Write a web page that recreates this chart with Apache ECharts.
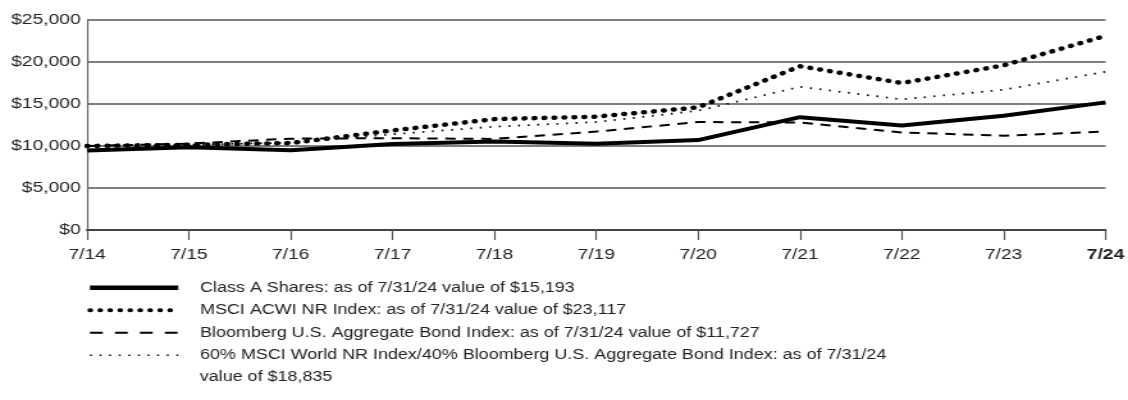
<!DOCTYPE html>
<html><head><meta charset="utf-8">
<script src="https://cdn.jsdelivr.net/npm/echarts@6/dist/echarts.min.js"></script>
<style>html,body{margin:0;padding:0;background:#fff;overflow:hidden}#c{width:881px;height:400px;transform:scaleX(1.2804);transform-origin:0 0}</style>
</head><body><div id="c"></div>
<script>
var categories = ['7/14','7/15','7/16','7/17','7/18','7/19','7/20','7/21','7/22','7/23','7/24'];
var classA = [9450, 9850, 9480, 10250, 10550, 10280, 10700, 13430, 12450, 13600, 15193];
var msciAcwi = [10000, 10150, 10350, 11850, 13200, 13500, 14600, 19500, 17500, 19600, 23117];
var bbgAgg = [10000, 10282, 10873, 10928, 10840, 11719, 12850, 12804, 11617, 11220, 11727];
var blend = [10000, 10150, 10400, 11400, 12300, 12850, 14200, 17050, 15550, 16700, 18835];
var names = [
  'Class A Shares: as of 7/31/24 value of $15,193',
  'MSCI ACWI NR Index: as of 7/31/24 value of $23,117',
  'Bloomberg U.S. Aggregate Bond Index: as of 7/31/24 value of $11,727',
  '60% MSCI World NR Index/40% Bloomberg U.S. Aggregate Bond Index: as of 7/31/24'
];
var nameContinuation = 'value of $18,835';
var styles = [
  {color: '#000', width: 4, type: 'solid'},
  {color: '#000', width: 4.5, type: [0.5, 7.3], cap: 'round'},
  {color: '#000', width: 2, type: [8, 6]},
  {color: '#000', width: 1.8, type: [1.5, 6]}
];
var legendStyles = [
  {color: '#000', width: 4.5, type: 'solid'},
  {color: '#000', width: 4, type: [0.5, 7.3], cap: 'round'},
  {color: '#000', width: 2, type: [10, 9.5]},
  {color: '#000', width: 1.6, type: [1.5, 6]}
];
var chart = echarts.init(document.getElementById('c'));
var font = 'Liberation Sans, Arial, sans-serif';
function mk(i, data) {
  return {name: names[i], type: 'line', data: data, symbol: 'none', lineStyle: styles[i], itemStyle: {color: '#000'}, z: 3};
}
chart.setOption({
  animation: false,
  grid: {left: 68, right: 17, top: 20, bottom: 170},
  xAxis: {
    type: 'category', data: categories, boundaryGap: false,
    axisLine: {lineStyle: {color: '#444', width: 2}},
    axisTick: {show: true, length: 10, lineStyle: {color: '#555', width: 1.2}},
    axisLabel: {color: '#222', fontSize: 15, fontFamily: font, margin: 17,
      formatter: function (v) { return v === '7/24' ? '{b|' + v + '}' : v; },
      rich: {b: {fontWeight: 'bold', fontSize: 15, fontFamily: font, color: '#222'}}}
  },
  yAxis: {
    type: 'value', min: 0, max: 25000, interval: 5000,
    axisLine: {show: true, lineStyle: {color: '#666', width: 1.2}},
    axisTick: {show: false},
    splitLine: {lineStyle: {color: '#555', width: 1.5}},
    axisLabel: {color: '#222', fontSize: 15, fontFamily: font, margin: 5,
      formatter: function (v) { return '$' + v.toLocaleString('en-US'); }}
  },
  legend: {
    orient: 'vertical', left: 68, top: 276.5, height: 300, padding: 0,
    itemWidth: 69, itemHeight: 14, itemGap: 0,
    textStyle: {color: '#222', fontSize: 14, fontFamily: font, padding: [0, 0, 0, 12], lineHeight: 22.5},
    data: names.map(function (n, i) {
      return {name: n, lineStyle: legendStyles[i], itemStyle: {color: 'rgba(0,0,0,0)', borderWidth: 0}};
    })
  },
  graphic: [{
    type: 'text', x: 156, y: 377,
    style: {text: nameContinuation, fill: '#222', fontSize: 14, fontFamily: font, verticalAlign: 'middle', align: 'left'}
  }],
  series: [mk(0, classA), mk(1, msciAcwi), mk(2, bbgAgg), mk(3, blend)]
});
</script></body></html>
